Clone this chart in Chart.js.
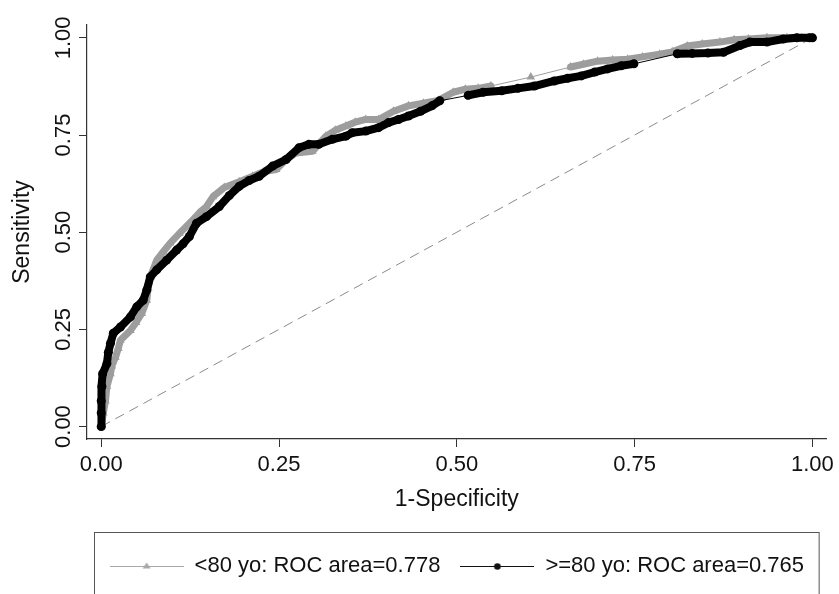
<!DOCTYPE html>
<html>
<head>
<meta charset="utf-8">
<script src="https://cdn.jsdelivr.net/npm/chart.js@4/dist/chart.umd.min.js"></script>
<style>
  html, body { margin: 0; padding: 0; background: #ffffff; }
  #wrap { width: 839px; height: 594px; }
</style>
</head>
<body>
<div id="wrap"><canvas id="c" width="839" height="594"></canvas></div>
<script>
// ---- data ----
const legendLabels = ['<80 yo: ROC area=0.778', '>=80 yo: ROC area=0.765'];
const axisTicks = [0, 0.25, 0.5, 0.75, 1];

const fprLt80 = [0,0.003,0.006,0.008,0.013,0.015,0.020,0.024,0.027,0.041,0.049,0.057,0.064,0.066,0.069,0.078,0.087,0.097,0.110,0.129,0.138,0.148,0.157,0.173,0.194,0.213,0.229,0.246,0.260,0.274,0.297,0.316,0.329,0.344,0.357,0.372,0.390,0.411,0.432,0.453,0.474,0.495,0.512,0.530,0.548,0.604,0.660,0.678,0.698,0.719,0.740,0.761,0.785,0.803,0.824,0.845,0.870,0.890,0.910,0.936,0.964,0.985,1];
const sensLt80 = [0,0.035,0.066,0.103,0.136,0.156,0.178,0.201,0.222,0.247,0.268,0.291,0.325,0.356,0.385,0.428,0.449,0.472,0.497,0.532,0.550,0.566,0.591,0.615,0.630,0.644,0.656,0.661,0.687,0.704,0.708,0.747,0.762,0.773,0.783,0.790,0.790,0.811,0.825,0.832,0.839,0.860,0.868,0.870,0.876,0.899,0.925,0.932,0.940,0.943,0.945,0.951,0.958,0.964,0.979,0.984,0.989,0.995,0.997,1.0,1.0,1.0,1];

const fprGe80 = [0,0,0,0.001,0.002,0.008,0.010,0.013,0.017,0.027,0.041,0.050,0.059,0.064,0.069,0.078,0.092,0.106,0.115,0.124,0.134,0.148,0.166,0.180,0.194,0.208,0.222,0.241,0.260,0.278,0.292,0.306,0.325,0.344,0.353,0.372,0.390,0.404,0.418,0.432,0.449,0.465,0.476,0.516,0.537,0.563,0.586,0.609,0.637,0.656,0.675,0.694,0.712,0.731,0.749,0.810,0.831,0.853,0.875,0.898,0.912,0.936,0.959,0.978,0.996,1];
const sensGe80 = [0,0.035,0.066,0.103,0.136,0.162,0.191,0.214,0.240,0.256,0.282,0.308,0.325,0.351,0.385,0.403,0.428,0.454,0.470,0.489,0.523,0.540,0.566,0.594,0.618,0.633,0.644,0.670,0.687,0.717,0.726,0.726,0.739,0.747,0.756,0.760,0.769,0.782,0.790,0.799,0.811,0.825,0.838,0.852,0.860,0.864,0.870,0.876,0.889,0.896,0.902,0.912,0.920,0.928,0.933,0.959,0.960,0.961,0.963,0.980,0.989,0.989,0.997,1.000,1.000,1];

const refLineX = [0, 1];
const refLineY = [0, 1];

// ---- build ----
const toPts = (xs, ys) => xs.map((x, i) => ({x: x, y: ys[i]}));
const GRAY = '#9d9d9d';
const BLACK = '#000000';
const FONT = "'Liberation Sans', Arial, Helvetica, sans-serif";
const TXT = '#111111';
const AX = '#333333';

// dense runs of markers look like a thick band; long gaps only show the thin connecting line
function bandWidth(thick) {
  return ctx => {
    const dx = ctx.p1.x - ctx.p0.x, dy = ctx.p1.y - ctx.p0.y;
    return Math.hypot(dx, dy) > 24 ? 1 : thick;
  };
}

const SAMPLE_W = 74;
function legendSample(color, kind) {
  const c = document.createElement('canvas');
  c.width = SAMPLE_W; c.height = 12;
  const g = c.getContext('2d');
  const m = SAMPLE_W / 2;
  g.strokeStyle = color; g.lineWidth = 1;
  g.beginPath(); g.moveTo(0, 6.5); g.lineTo(SAMPLE_W, 6.5); g.stroke();
  g.fillStyle = color;
  g.beginPath();
  if (kind === 'triangle') { g.moveTo(m, 2.5); g.lineTo(m - 4, 8.5); g.lineTo(m + 4, 8.5); g.closePath(); }
  else { g.arc(m, 6.5, 3.3, 0, Math.PI * 2); }
  g.fill();
  return c;
}
const samples = [legendSample('#a8a8a8', 'triangle'), legendSample('#111', 'circle')];

const legendBox = {
  id: 'legendBox',
  afterDraw(chart) {
    const lg = chart.legend, ca = chart.chartArea, g = chart.ctx;
    g.save();
    g.strokeStyle = '#555'; g.lineWidth = 1;
    g.strokeRect(ca.left + 7.5, lg.top - 2.5, (ca.right - 8) - (ca.left + 7), 100);
    g.restore();
  }
};

new Chart(document.getElementById('c'), {
  type: 'scatter',
  data: {
    datasets: [
      {
        label: legendLabels[0],
        data: toPts(fprLt80, sensLt80),
        showLine: true,
        order: 1,
        borderColor: GRAY,
        backgroundColor: GRAY,
        borderWidth: 1,
        borderJoinStyle: 'round',
        borderCapStyle: 'round',
        segment: { borderWidth: bandWidth(7) },
        pointStyle: 'triangle',
        pointRadius: 5,
        pointBorderWidth: 0,
        pointBackgroundColor: GRAY,
        tension: 0
      },
      {
        label: legendLabels[1],
        data: toPts(fprGe80, sensGe80),
        showLine: true,
        order: 0,
        borderColor: BLACK,
        backgroundColor: BLACK,
        borderWidth: 1,
        borderJoinStyle: 'round',
        borderCapStyle: 'round',
        segment: { borderWidth: bandWidth(8) },
        pointStyle: 'circle',
        pointRadius: 4.5,
        pointBorderWidth: 0,
        pointBackgroundColor: BLACK,
        tension: 0
      },
      {
        label: 'ref',
        data: toPts(refLineX, refLineY),
        showLine: true,
        order: 2,
        borderColor: '#8a8a8a',
        borderWidth: 1,
        borderDash: [10, 6],
        pointRadius: 0
      }
    ]
  },
  options: {
    responsive: false,
    animation: false,
    events: [],
    layout: { padding: { left: 0, right: 9, top: 25, bottom: 7 } },
    scales: {
      x: {
        type: 'linear',
        min: -0.02, max: 1.02,
        afterBuildTicks: axis => { axis.ticks = axisTicks.map(v => ({value: v})); },
        grid: { display: true, drawOnChartArea: false, drawTicks: true, tickLength: 8, color: AX, lineWidth: 1 },
        border: { display: true, color: AX, width: 1.2 },
        ticks: {
          padding: 5, color: TXT, maxRotation: 0, minRotation: 0,
          font: { family: FONT, size: 22 },
          callback: v => Number(v).toFixed(2)
        },
        title: {
          display: true, text: '1-Specificity', color: TXT,
          font: { family: FONT, size: 23 },
          padding: { top: 2, bottom: 22 }
        }
      },
      y: {
        type: 'linear',
        min: -0.032, max: 1.033,
        afterBuildTicks: axis => { axis.ticks = axisTicks.map(v => ({value: v})); },
        grid: { display: true, drawOnChartArea: false, drawTicks: true, tickLength: 8, color: AX, lineWidth: 1 },
        border: { display: true, color: AX, width: 1.2 },
        ticks: {
          padding: -6, color: TXT, minRotation: 90, maxRotation: 90, crossAlign: 'center',
          font: { family: FONT, size: 22 },
          callback: v => Number(v).toFixed(2)
        },
        title: {
          display: true, text: 'Sensitivity', color: TXT,
          font: { family: FONT, size: 23 },
          padding: { top: 9, bottom: 28 }
        }
      }
    },
    plugins: {
      tooltip: { enabled: false },
      legend: {
        display: true,
        position: 'bottom',
        fullSize: false,
        labels: {
          usePointStyle: true,
          pointStyleWidth: SAMPLE_W,
          padding: 20,
          color: TXT,
          font: { family: FONT, size: 22 },
          filter: item => item.datasetIndex < 2,
          sort: (a, b) => a.datasetIndex - b.datasetIndex,
          generateLabels: chart => {
            const items = Chart.defaults.plugins.legend.labels.generateLabels(chart);
            items.forEach(it => { if (it.datasetIndex < 2) it.pointStyle = samples[it.datasetIndex]; });
            return items;
          }
        }
      }
    }
  },
  plugins: [legendBox]
});
</script>
</body>
</html>
